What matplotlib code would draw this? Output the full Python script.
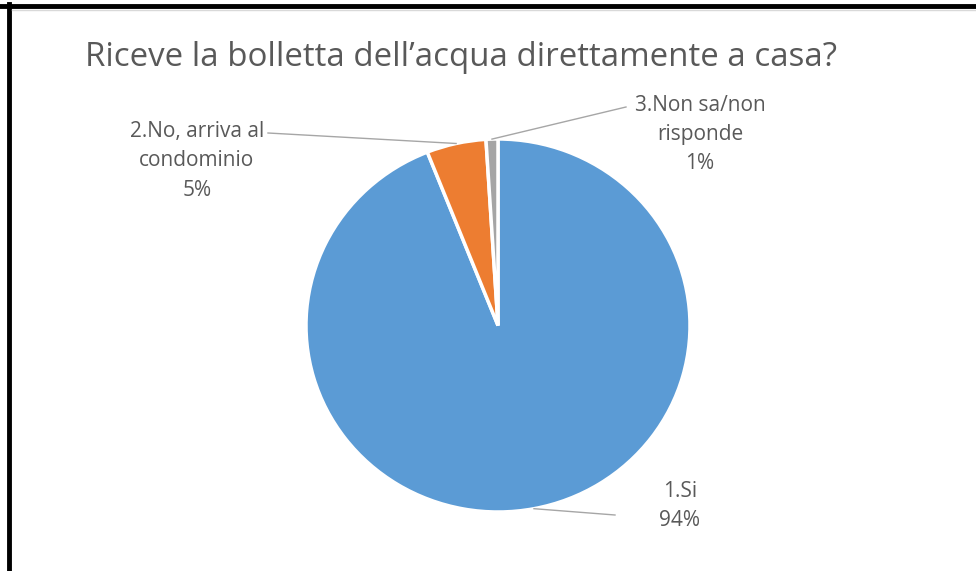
import numpy as np
import matplotlib.pyplot as plt
from matplotlib.lines import Line2D

labels = ['1.Si', '2.No, arriva al\ncondominio', '3.Non sa/non\nrisponde']
values = [94, 5, 1]
colors = ['#5B9BD5', '#ED7D31', '#A5A5A5']

# label centre and leader end, in pixel coords (y from top)
label_pos = [(680, 506), (197, 161), (700, 135)]
leader_end = [(615, 515), (268, 133), (626, 107)]

W, H = 976, 571
K = 192 / 186.5  # the reference pie is a bit wider than tall


def py(y):
    return (H - y) * K


fig = plt.figure(figsize=(W / 100, H / 100), dpi=100)
fig.patch.set_facecolor('white')
ax = fig.add_axes([0, 0, 1, 1])

cx, cy, r = 498, py(325.5), 192
wedges, _ = ax.pie(values, colors=colors, startangle=90, counterclock=False,
                   center=(cx, cy), radius=r, frame=True,
                   wedgeprops=dict(edgecolor='white', linewidth=2.5))
ax.set_aspect('auto')
ax.set_xlim(0, W)
ax.set_ylim(0, H * K)
ax.axis('off')

for w, lab, (tx, ty), (ex, ey), v in zip(wedges, labels, label_pos, leader_end, values):
    mid = np.deg2rad((w.theta1 + w.theta2) / 2)
    px, pyy = cx + r * np.cos(mid), cy + r * np.sin(mid)
    ax.plot([px, ex], [pyy, py(ey)], color='#A6A6A6', lw=1, zorder=1)
    ax.text(tx, py(ty), f'{lab}\n{v}%', ha='center', va='center',
            fontsize=15, color='#595959', family='Open Sans', linespacing=1.5)

ax.text(85, py(57), 'Riceve la bolletta dell\u2019acqua direttamente a casa?',
        ha='left', va='center', fontsize=23.8, color='#595959', family='Open Sans')

# window frame
fig.add_artist(Line2D([0, 1], [1 - 5.5 / H] * 2, color='black', lw=3.5))
fig.add_artist(Line2D([9 / W] * 2, [0, 1 - 4 / H], color='black', lw=3.5))
fig.add_artist(Line2D([0.012, 1], [1 - 9.5 / H] * 2, color='#D9D9D9', lw=1))

fig.savefig('out.png', dpi=100, facecolor='white')
